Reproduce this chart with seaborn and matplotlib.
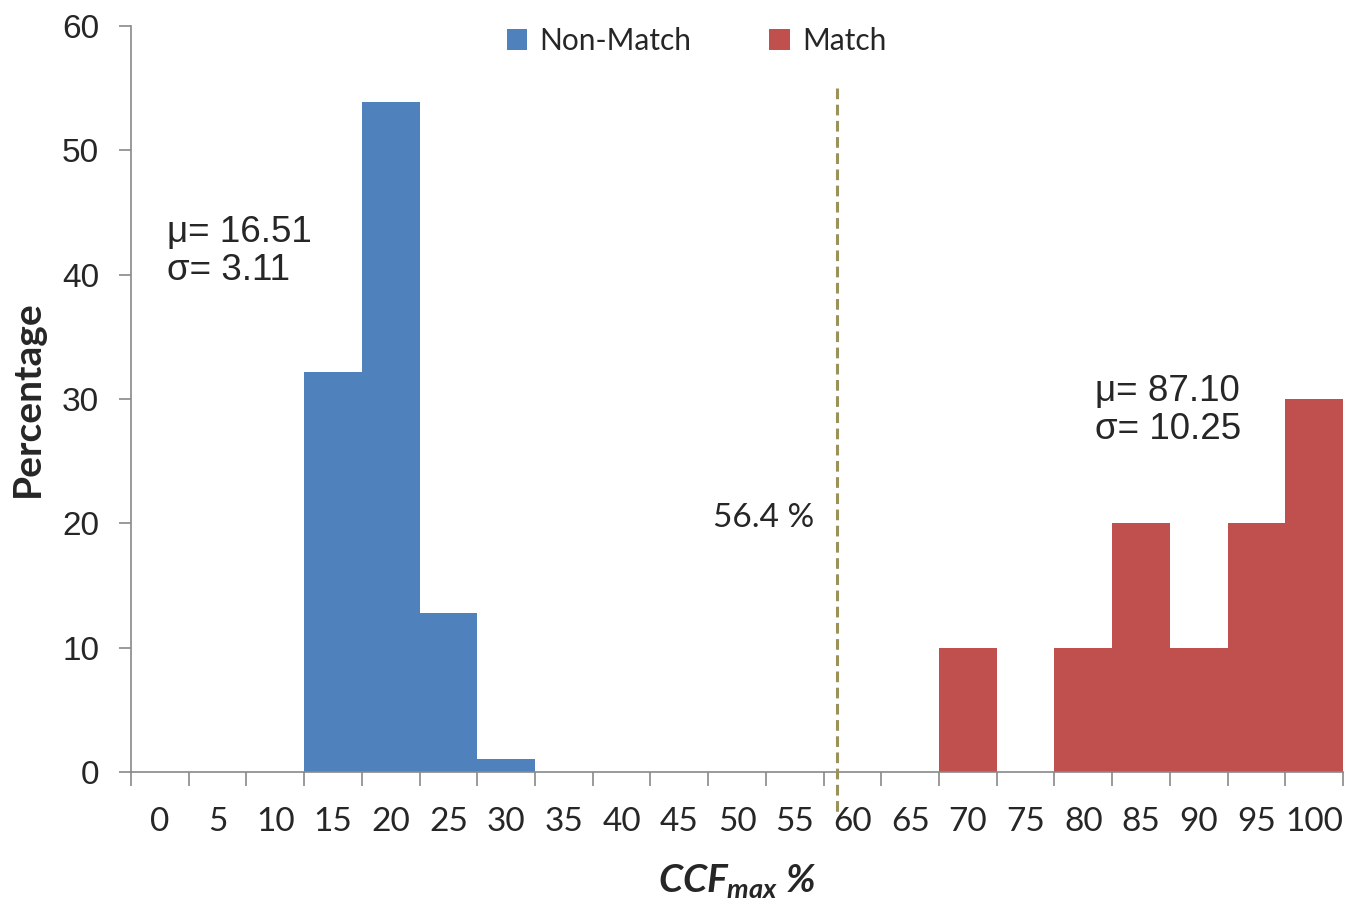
import numpy as np
import pandas as pd
import matplotlib
matplotlib.use("Agg")
import matplotlib.pyplot as plt
import seaborn as sns

# --- data ---
ccf_bins = [str(v) for v in range(0, 105, 5)]
non_match_pct = [0, 0, 0, 32.2, 53.9, 12.8, 1.05, 0, 0, 0, 0, 0,
                 0, 0, 0, 0, 0, 0, 0, 0, 0]
match_pct = [0, 0, 0, 0, 0, 0, 0, 0, 0, 0, 0, 0,
             0, 0, 10, 0, 10, 20, 10, 20, 30]
group_names = ["Non-Match", "Match"]
threshold_label = "56.4 %"
threshold_pos = 11.73          # position on the category axis
non_match_stats = "\u03bc= 16.51\n\u03c3= 3.11"
match_stats = "\u03bc= 87.10\n\u03c3= 10.25"

df = pd.DataFrame({
    "ccf": ccf_bins * 2,
    "pct": non_match_pct + match_pct,
    "group": [group_names[0]] * len(ccf_bins) + [group_names[1]] * len(ccf_bins),
})

sns.set_style("white")
plt.rcParams["font.family"] = ["Liberation Sans", "DejaVu Sans"]
plt.rcParams["mathtext.fontset"] = "custom"
plt.rcParams["mathtext.it"] = "Lato:italic:bold"
plt.rcParams["mathtext.rm"] = "Lato:bold"

axis_grey = "#898989"
fig = plt.figure(figsize=(13.47, 9.02), dpi=100)
ax = fig.add_axes([131 / 1347, 1 - 772 / 902, 1212 / 1347, 746 / 902])

sns.barplot(data=df, x="ccf", y="pct", hue="group", order=ccf_bins,
            hue_order=group_names, palette=["#4F81BD", "#C0504D"],
            dodge=False, width=1.0, linewidth=0, saturation=1, ax=ax)

ax.set_xlim(-0.5, len(ccf_bins) - 0.5)
ax.set_ylim(0, 60)
ax.set_yticks(range(0, 61, 10))

# category boundaries get the tick marks, labels sit between them
ax.set_xticks(np.arange(-0.5, len(ccf_bins)), minor=True)
ax.tick_params(axis="x", which="major", bottom=True, length=0, pad=25)
ax.tick_params(axis="x", which="minor", bottom=True, length=10, width=1.2,
               color=axis_grey)
ax.tick_params(axis="y", left=True, length=9, width=1.2, color=axis_grey,
               pad=14, labelsize=24)
for lab in ax.get_xticklabels():
    lab.set_fontfamily(["Liberation Sans Narrow", "Lato", "DejaVu Sans"])
    lab.set_fontsize(24)

for side in ["top", "right"]:
    ax.spines[side].set_visible(False)
for side in ["left", "bottom"]:
    ax.spines[side].set_color(axis_grey)
    ax.spines[side].set_linewidth(1.2)

ax.set_ylabel("Percentage", fontsize=28, fontweight="bold",
              family=["Lato", "DejaVu Sans"], labelpad=12)
ax.set_xlabel(r"$CCF_{max}$ %", fontsize=28, fontweight="bold", style="italic",
              family=["Lato", "DejaVu Sans"], labelpad=18)

ax.plot([threshold_pos, threshold_pos], [55, -3.4], ls=(0, (3.5, 1.8)),
        lw=2.2, color="#9C9158", clip_on=False, zorder=5)
ax.text(0.564, 0.34, threshold_label, transform=ax.transAxes, ha="right",
        va="center", fontsize=24, family=["Lato", "DejaVu Sans"])

ax.text(0.03, 0.698, non_match_stats, transform=ax.transAxes, ha="left",
        va="center", fontsize=26.5, linespacing=1.1)
ax.text(0.795, 0.485, match_stats, transform=ax.transAxes, ha="left",
        va="center", fontsize=26.5, linespacing=1.1)

handles, labels = ax.get_legend_handles_labels()
ax.legend(handles, labels, loc="center", bbox_to_anchor=(0.517, 0.955),
          bbox_transform=fig.transFigure, ncol=2, frameon=False,
          handlelength=0.7, handleheight=0.7, handletextpad=0.4,
          columnspacing=2.6, prop={"family": ["Lato", "DejaVu Sans"], "size": 21.5})

fig.savefig("out.png", dpi=100)
